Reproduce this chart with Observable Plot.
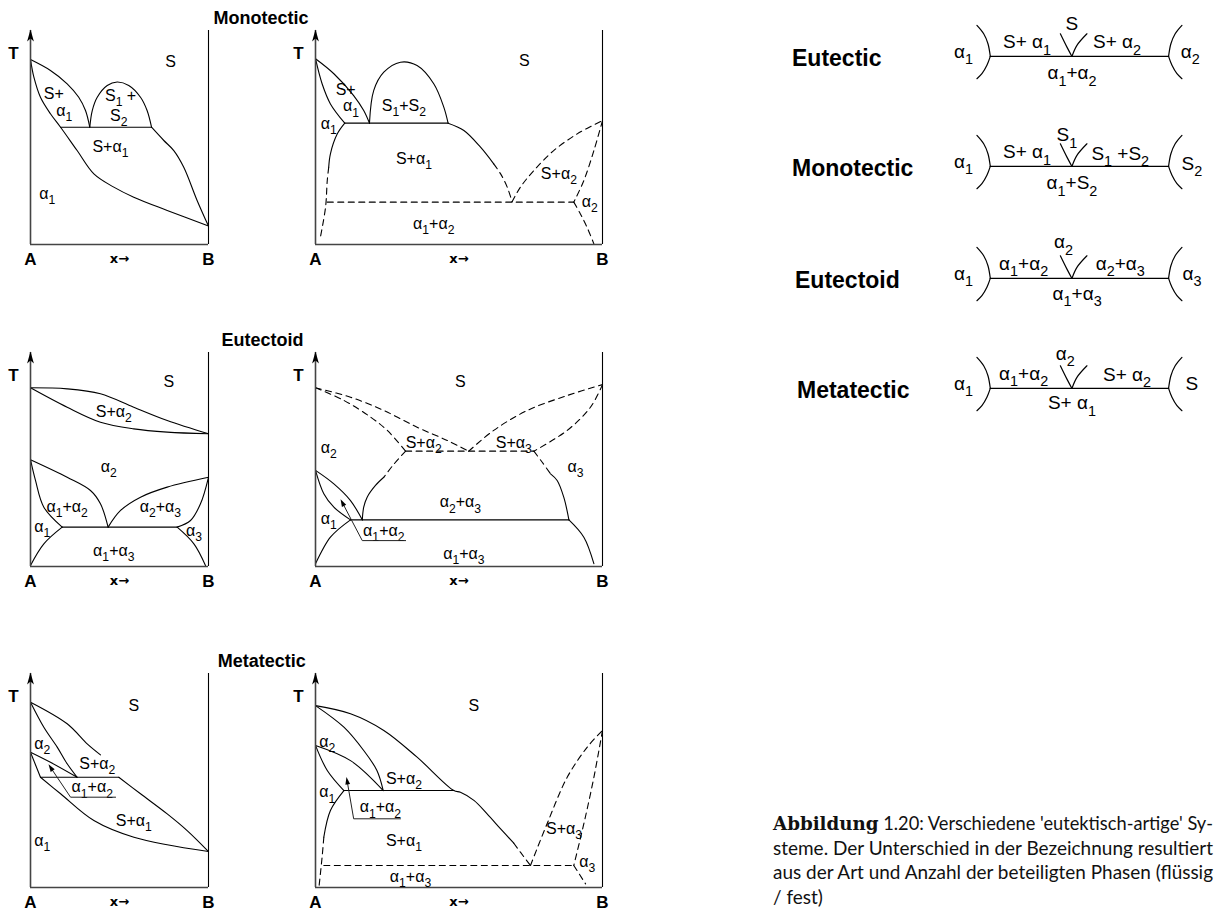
<!DOCTYPE html>
<html>
<head>
<meta charset="utf-8">
<script src="https://cdn.jsdelivr.net/npm/d3@7"></script>
<script src="https://cdn.jsdelivr.net/npm/@observablehq/plot@0.6"></script>
<style>
  html, body { margin: 0; padding: 0; background: #fff; }
  #page { position: relative; width: 1215px; height: 913px; overflow: hidden; font-family: 'Liberation Sans', Arial, Helvetica, sans-serif; color: #000; }
  .ttl { position: absolute; font-weight: bold; line-height: 1; white-space: nowrap; }
  #caption { position: absolute; left: 773px; top: 811px; width: 440px; font-family: Lato, 'Open Sans', sans-serif; font-size: 19px; line-height: 24.5px; color: #111; }
  #caption .ln { width: 440px; white-space: nowrap; }
  #caption .j { text-align: justify; text-align-last: justify; }
  #caption b { font-family: 'DejaVu Serif', 'Liberation Serif', serif; font-weight: bold; font-size: 19px; }
  svg { display: block; overflow: visible; }
</style>
</head>
<body>
<div id="page"></div>
<script>
// ================= DATA =================
const panelTitles = ["Monotectic", "Eutectoid", "Metatectic"];
const reactionNames = ["Eutectic", "Monotectic", "Eutectoid", "Metatectic"];
const axisNames = { left: "A", right: "B", comp: "x→", temp: "T" };
const captionLines = [
  ["Abbildung", " 1.20: Verschiedene 'eutektisch-artige' Sy-"],
  ["", "steme. Der Unterschied in der Bezeichnung resultiert"],
  ["", "aus der Art und Anzahl der beteiligten Phasen (flüssig"],
  ["", "/ fest)"]
];

// Phase boundaries: composition x (A=0 .. B=100), temperature T (0 .. 100)
// kind: "stable" (solid line) or "metastable" (dashed line)
const monoLeftCurves = [
  { id: "liq-a", kind: "stable", pts: [[0,86.4],[11.2,81.3],[20.6,75.1],[27.1,68.8],[30.9,62.6],[33.3,54.8]] },
  { id: "sol-a", kind: "stable", pts: [[0,86.4],[1.9,78.2],[5.6,68.8],[11.2,61.1],[16.9,54.8],[26.2,43.9],[35.6,33.0],[46.8,26.8],[58.0,22.1],[76.8,15.9],[100,8.6]] },
  { id: "mono", kind: "stable", pts: [[16.9,54.8],[68.0,54.8]] },
  { id: "gap", kind: "stable", pts: [[33.3,54.8],[34.7,62.6],[37.5,68.8],[43.1,74.3],[48.7,75.9],[55.2,74.3],[61.8,68.8],[65.5,62.6],[68.0,54.8]] },
  { id: "liq-b", kind: "stable", pts: [[68.0,54.8],[74.9,48.6],[80.5,43.9],[86.1,36.1],[93.6,20.6],[100,8.6]] }
];
const monoLeftLabels = [
  { t: "S", x: 78.7, y: 85.2 }, { t: "S+", x: 13.1, y: 70.6 }, { t: "α_1", x: 19.0, y: 62.4 },
  { t: "S_1 +", x: 50.6, y: 69.6 }, { t: "S_2", x: 49.6, y: 60.2 }, { t: "S+α_1", x: 44.9, y: 45.5 },
  { t: "α_1", x: 9.4, y: 23.7 }
];

const monoRightCurves = [
  { id: "liq-a", kind: "stable", pts: [[0,86.8],[6.4,79.8],[13.3,69.6],[16.8,62.6],[18.8,56.7]] },
  { id: "sol-a", kind: "stable", pts: [[0,86.8],[2.3,75.1],[5.2,65.7],[10.2,56.7]] },
  { id: "mono", kind: "stable", pts: [[10.2,56.7],[46.2,56.7]] },
  { id: "solv-a", kind: "stable", pts: [[10.2,56.7],[7.6,51.7],[5.2,42.4],[4.6,36.1]] },
  { id: "solv-a2", kind: "metastable", pts: [[4.6,36.1],[4.1,29.9],[3.5,17.4],[1.7,3.4]] },
  { id: "gap", kind: "stable", pts: [[18.8,56.7],[20.3,72.0],[23.8,80.5],[29.6,85.2],[35.4,83.6],[41.2,75.1],[44.7,64.2],[46.2,56.7]] },
  { id: "liq-b", kind: "stable", pts: [[46.2,56.7],[51.7,53.3],[57.5,45.5],[62.1,37.7]] },
  { id: "liq-b2", kind: "metastable", pts: [[62.1,37.7],[64.5,33.0],[66.8,26.8],[68.5,20.0]] },
  { id: "eut", kind: "metastable", pts: [[4.1,19.8],[90.0,19.8]] },
  { id: "liq-c", kind: "metastable", pts: [[68.5,20.0],[71.4,26.8],[76.1,34.6],[83.0,43.9],[91.2,51.7],[100,57.9]] },
  { id: "sol-c", kind: "metastable", pts: [[100,57.9],[97.0,43.9],[93.5,29.9],[90.0,19.8]] },
  { id: "solv-c", kind: "metastable", pts: [[90.0,19.8],[92.3,14.3],[94.6,8.1],[97.0,0.3]] }
];
const monoRightLabels = [
  { t: "S", x: 72.8, y: 85.7 }, { t: "S+", x: 10.5, y: 72.4 }, { t: "α_1", x: 12.4, y: 64.6 },
  { t: "α_1", x: 4.6, y: 56.4 }, { t: "S_1+S_2", x: 30.8, y: 65.0 }, { t: "S+α_1", x: 34.3, y: 40.0 },
  { t: "S+α_2", x: 84.8, y: 33.0 }, { t: "α_2", x: 95.6, y: 19.8 }, { t: "α_1+α_2", x: 41.2, y: 9.7 }
];

const eutLeftCurves = [
  { id: "liq", kind: "stable", pts: [[0,83.5],[20.6,83.0],[39.3,80.7],[58.0,74.4],[76.8,68.2],[100,62.0]] },
  { id: "sol", kind: "stable", pts: [[0,83.5],[20.6,74.4],[39.3,67.4],[58.0,64.3],[76.8,62.8],[100,62.0]] },
  { id: "a2-left", kind: "stable", pts: [[0,49.9],[20.6,41.7],[33.7,35.5],[39.3,29.3],[43.6,18.4]] },
  { id: "a1-a12", kind: "stable", pts: [[0,49.9],[2.8,40.2],[7.5,27.7],[17.8,18.4]] },
  { id: "eutd", kind: "stable", pts: [[17.8,18.4],[82.4,18.4]] },
  { id: "solv-a1", kind: "stable", pts: [[17.8,18.4],[7.5,10.6],[0,0.5]] },
  { id: "a2-right", kind: "stable", pts: [[43.6,18.4],[50.6,26.2],[61.8,32.4],[76.8,37.1],[100,41.7]] },
  { id: "a3", kind: "stable", pts: [[100,41.7],[95.5,29.3],[89.9,21.5],[82.4,18.4]] },
  { id: "solv-a3", kind: "stable", pts: [[82.4,18.4],[91.8,10.6],[98.3,0.5]] }
];
const eutLeftLabels = [
  { t: "S", x: 77.7, y: 86.1 }, { t: "S+α_2", x: 46.8, y: 72.1 }, { t: "α_2", x: 44.0, y: 46.4 },
  { t: "α_1+α_2", x: 20.6, y: 27.7 }, { t: "α_2+α_3", x: 73.0, y: 27.7 }, { t: "α_1", x: 6.6, y: 18.4 },
  { t: "α_3", x: 91.8, y: 16.8 }, { t: "α_1+α_3", x: 46.8, y: 7.5 }
];

const eutRightCurves = [
  { id: "liq-l", kind: "metastable", pts: [[0,83.5],[12.2,79.1],[23.8,72.9],[35.4,65.1],[45.9,58.9],[53.4,53.9]] },
  { id: "sol-l", kind: "metastable", pts: [[0,83.5],[9.9,77.6],[19.2,69.8],[25.0,63.6],[31.4,53.9]] },
  { id: "eut", kind: "metastable", pts: [[31.4,53.9],[76.1,53.9]] },
  { id: "liq-r", kind: "metastable", pts: [[53.4,53.9],[62.1,63.6],[73.8,72.9],[87.7,79.9],[100,85.0]] },
  { id: "sol-r", kind: "metastable", pts: [[100,85.0],[95.8,74.4],[87.7,63.6],[76.1,53.9]] },
  { id: "a2-b1", kind: "metastable", pts: [[31.4,53.9],[27.3,47.8],[23.8,41.7]] },
  { id: "a2-b2", kind: "stable", pts: [[23.8,41.7],[20.9,37.9],[18.0,32.4],[16.8,27.7],[16.3,21.8]] },
  { id: "a3-b1", kind: "metastable", pts: [[76.1,53.9],[79.0,48.7],[81.9,43.3]] },
  { id: "a3-b2", kind: "stable", pts: [[81.9,43.3],[84.2,40.2],[86.5,32.4],[88.3,21.8]] },
  { id: "eutd", kind: "stable", pts: [[12.2,21.8],[88.3,21.8]] },
  { id: "a12-up", kind: "stable", pts: [[0,44.9],[6.4,38.6],[12.2,30.8],[16.3,21.8]] },
  { id: "a12-lo", kind: "stable", pts: [[0,44.9],[2.9,34.0],[6.4,27.7],[12.2,21.8]] },
  { id: "solv-a1", kind: "stable", pts: [[12.2,21.8],[5.2,13.7],[0,1.3]] },
  { id: "solv-a3", kind: "stable", pts: [[88.3,21.8],[93.5,13.7],[97.0,1.3]] }
];
const eutRightLeader = [[31.4,12.1],[16.3,12.1],[9.3,30.0]];
const eutRightLabels = [
  { t: "S", x: 50.5, y: 86.1 }, { t: "α_2", x: 4.6, y: 55.3 }, { t: "S+α_2", x: 37.7, y: 57.6 },
  { t: "S+α_3", x: 69.1, y: 57.6 }, { t: "α_3", x: 90.6, y: 46.4 }, { t: "α_2+α_3", x: 50.5, y: 30.0 },
  { t: "α_1", x: 4.6, y: 22.3 }, { t: "α_1+α_2", x: 23.8, y: 16.8 }, { t: "α_1+α_3", x: 51.7, y: 5.9 }
];

const metaLeftCurves = [
  { id: "liq-a", kind: "stable", pts: [[0,86.6],[20.6,76.5],[32.0,67.0],[39.3,62.0]] },
  { id: "sol-a2", kind: "stable", pts: [[0,86.6],[7.5,74.9],[15.0,65.6],[20.6,57.8],[26.2,51.5]] },
  { id: "a2-lo", kind: "stable", pts: [[0,63.2],[11.2,58.5],[26.2,51.5]] },
  { id: "a1-up", kind: "stable", pts: [[0,63.2],[5.6,51.5]] },
  { id: "meta", kind: "stable", pts: [[5.6,51.5],[49.6,51.5]] },
  { id: "sol-a1", kind: "stable", pts: [[5.6,51.5],[16.9,43.8],[35.6,31.3],[58.1,23.5],[100,16.8]] },
  { id: "liq-b", kind: "stable", pts: [[49.6,51.5],[61.8,43.8],[76.8,34.4],[88.0,26.6],[100,16.8]] }
];
const metaLeftLeader = [[47.8,42.2],[22.5,42.2],[11.2,56.2]];
const metaLeftLabels = [
  { t: "S", x: 58.0, y: 85.0 }, { t: "α_2", x: 6.6, y: 67.1 }, { t: "S+α_2", x: 37.5, y: 57.8 },
  { t: "α_1+α_2", x: 34.7, y: 46.8 }, { t: "S+α_1", x: 58.0, y: 31.3 }, { t: "α_1", x: 6.6, y: 22.0 }
];

const metaRightCurves = [
  { id: "liq", kind: "stable", pts: [[0,85.0],[12.2,81.2],[23.8,73.4],[35.4,60.9],[48.2,45.3],[50.5,44.5],[55.2,40.7],[59.8,34.4],[64.5,27.4],[69.1,20.7]] },
  { id: "liq2", kind: "metastable", pts: [[69.1,20.7],[71.4,16.5],[74.9,10.3]] },
  { id: "sol-a2", kind: "stable", pts: [[0,85.0],[9.9,74.9],[16.8,64.0],[21.4,54.7],[23.6,45.3]] },
  { id: "a2-lo", kind: "stable", pts: [[0,66.4],[12.2,59.3],[23.6,45.3]] },
  { id: "a1-up", kind: "stable", pts: [[0,66.4],[4.1,54.7],[9.9,45.3]] },
  { id: "meta", kind: "stable", pts: [[9.9,45.3],[48.2,45.3]] },
  { id: "solv-a1", kind: "stable", pts: [[9.9,45.3],[5.2,36.0],[2.9,23.5]] },
  { id: "solv-a1b", kind: "metastable", pts: [[2.9,23.5],[2.3,14.2],[1.2,0.1]] },
  { id: "eut", kind: "metastable", pts: [[2.9,10.3],[90.0,10.3]] },
  { id: "liq-r", kind: "metastable", pts: [[74.9,10.3],[80.7,29.8],[87.7,51.5],[94.7,65.6],[100,73.4]] },
  { id: "sol-r", kind: "metastable", pts: [[100,73.4],[97.0,51.5],[93.5,29.8],[90.0,10.3]] },
  { id: "solv-a3", kind: "metastable", pts: [[90.0,10.3],[94.1,1.7]] }
];
const metaRightLeader = [[29.6,32.1],[13.3,32.1],[11.0,50.0]];
const metaRightLabels = [
  { t: "S", x: 55.2, y: 85.0 }, { t: "α_2", x: 4.1, y: 67.9 }, { t: "S+α_2", x: 30.8, y: 50.8 },
  { t: "α_1", x: 4.1, y: 44.5 }, { t: "α_1+α_2", x: 22.6, y: 37.5 }, { t: "S+α_1", x: 30.8, y: 22.0 },
  { t: "S+α_3", x: 86.6, y: 27.4 }, { t: "α_3", x: 94.7, y: 11.8 }, { t: "α_1+α_3", x: 33.1, y: 4.8 }
];

// Reaction schematics (invariant line from 0 to 100, schematic units)
const reactionShape = {
  tie: [[0,0],[100,0]],
  bracketTop: [[-7.5,17.4],[-3.7,12.7],[-1.3,7.1],[0,0]],
  bracketBottom: [[0,0],[-1.9,-5],[-4.7,-9.7],[-7.5,-12.5]],
  vLeft: [[39.3,12.7],[43.0,5.2],[45.8,0]],
  vRight: [[45.8,0],[48.6,6.2],[54.2,12.7]]
};
const reactionLabels = [
  [ { t: "α_1", x: -15, y: 2.4 }, { t: "S+ α_1", x: 20.6, y: 7.9 }, { t: "S", x: 45.8, y: 18.3 },
    { t: "S+ α_2", x: 71.1, y: 7.9 }, { t: "α_2", x: 112.2, y: 2.4 }, { t: "α_1+α_2", x: 45.8, y: -9.5 } ],
  [ { t: "α_1", x: -15, y: 2.4 }, { t: "S+ α_1", x: 20.6, y: 7.9 }, { t: "S_1", x: 43.0, y: 17.4 },
    { t: "S_1 +S_2", x: 72.9, y: 7.1 }, { t: "S_2", x: 113.1, y: 1.5 }, { t: "α_1+S_2", x: 45.8, y: -9.5 } ],
  [ { t: "α_1", x: -15, y: 2.4 }, { t: "α_1+α_2", x: 18.7, y: 8.0 }, { t: "α_2", x: 41.1, y: 20.2 },
    { t: "α_2+α_3", x: 72.9, y: 8.0 }, { t: "α_3", x: 113.1, y: 2.4 }, { t: "α_1+α_3", x: 48.7, y: -8.6 } ],
  [ { t: "α_1", x: -15, y: 2.8 }, { t: "α_1+α_2", x: 18.7, y: 8.4 }, { t: "α_2", x: 42.1, y: 19.6 },
    { t: "S+ α_2", x: 76.7, y: 7.5 }, { t: "S", x: 113.1, y: 2.8 }, { t: "S+ α_1", x: 45.8, y: -8.4 } ]
];

// ================= LAYOUT / STYLE =================
const FONT = "'Liberation Sans', Arial, Helvetica, sans-serif";
const page = document.getElementById("page");
const SVGNS = "http://www.w3.org/2000/svg";

function subscriptify(svg) {
  for (const t of svg.querySelectorAll("text")) {
    const s = t.textContent;
    if (!s.includes("_")) continue;
    const g = t.closest("[font-size]");
    const fs = g ? parseFloat(g.getAttribute("font-size")) : 16;
    t.textContent = "";
    const parts = s.split(/_(\w)/);
    parts.forEach((p, i) => {
      if (!p) return;
      const ts = document.createElementNS(SVGNS, "tspan");
      ts.textContent = p;
      if (i % 2 === 1) { ts.setAttribute("font-size", (fs * 0.76).toFixed(2)); ts.setAttribute("dy", (fs * 0.32).toFixed(2)); }
      else if (i > 0) { ts.setAttribute("dy", (-fs * 0.32).toFixed(2)); }
      t.appendChild(ts);
    });
  }
}
function fillMarkers(svg) {
  for (const m of svg.querySelectorAll("marker")) {
    m.setAttribute("markerWidth", 10);
    m.setAttribute("markerHeight", 10);
    m.setAttribute("fill", "#000");
    m.setAttribute("stroke", "none");
    const p = m.querySelector("path");
    if (p) p.setAttribute("d", "M-4,-2.4L3.5,0L-4,2.4Z");
  }
}
function place(el, left, top) {
  el.style.position = "absolute";
  el.style.left = left + "px";
  el.style.top = top + "px";
  page.appendChild(el);
}
function toRows(curves) {
  return curves.flatMap(c => c.pts.map(([x, y]) => ({ curve: c.id, kind: c.kind, x, y })));
}
const axisArrow = { draw(ctx) { ctx.moveTo(0, -1); ctx.lineTo(3.4, 11); ctx.lineTo(0, 8); ctx.lineTo(-3.4, 11); ctx.closePath(); } };

function panel(curves, labels, leader, box) {
  const mL = 30, mR = 14, mT = 8, mB = 28;
  const rows = toRows(curves);
  const marks = [
    Plot.line(rows.filter(d => d.kind === "stable"), { x: "x", y: "y", z: "curve", curve: "catmull-rom", stroke: "#000", strokeWidth: 1.1 }),
    Plot.line(rows.filter(d => d.kind === "metastable"), { x: "x", y: "y", z: "curve", curve: "catmull-rom", stroke: "#000", strokeWidth: 1.1, strokeDasharray: "6,4.5" }),
    Plot.ruleX([0], { y1: 0, y2: 100, stroke: "#444", strokeWidth: 1.6 }),
    Plot.ruleX([100], { y1: 0, y2: 100, stroke: "#000", strokeWidth: 1.1 }),
    Plot.ruleY([0], { x1: 0, x2: 100, stroke: "#444", strokeWidth: 1.6 }),
    Plot.dot([{ x: 0, y: 100 }], { x: "x", y: "y", symbol: axisArrow, fill: "#000", stroke: "none" }),
    Plot.text(labels, { x: "x", y: "y", text: "t", fontSize: 16, fontFamily: FONT }),
    Plot.text([{ x: 0, t: axisNames.left }, { x: 100, t: axisNames.right }], { x: "x", y: () => 0, text: "t", dy: 15, fontSize: 17, fontWeight: "bold", fontFamily: FONT }),
    Plot.text([{ x: 50, t: axisNames.comp }], { x: "x", y: () => 0, text: "t", dy: 14, fontSize: 13, fontWeight: "bold", fontFamily: "'DejaVu Sans', sans-serif" }),
    Plot.text([{ x: 0, y: 89, t: axisNames.temp }], { x: "x", y: "y", text: "t", dx: -17, fontSize: 17, fontWeight: "bold", fontFamily: FONT })
  ];
  if (leader) marks.push(Plot.line(leader.map(([x, y]) => ({ x, y })), { x: "x", y: "y", stroke: "#222", strokeWidth: 1, markerEnd: "arrow" }));
  const svg = Plot.plot({
    width: mL + box.w + mR, height: mT + box.h + mB,
    marginLeft: mL, marginRight: mR, marginTop: mT, marginBottom: mB,
    x: { domain: [0, 100], axis: null },
    y: { domain: [0, 100], axis: null },
    style: { background: "transparent", overflow: "visible" },
    marks
  });
  subscriptify(svg);
  fillMarkers(svg);
  place(svg, box.left - mL, box.top - mT);
}

const colL = { left: 30, w: 178, h: 214 }, colR = { left: 315, w: 287, h: 214 };
const rowTops = [30, 352, 673];
panel(monoLeftCurves, monoLeftLabels, null, { ...colL, top: rowTops[0] });
panel(monoRightCurves, monoRightLabels, null, { ...colR, top: rowTops[0] });
panel(eutLeftCurves, eutLeftLabels, null, { ...colL, top: rowTops[1] });
panel(eutRightCurves, eutRightLabels, eutRightLeader, { ...colR, top: rowTops[1] });
panel(metaLeftCurves, metaLeftLabels, metaLeftLeader, { ...colL, top: rowTops[2] });
panel(metaRightCurves, metaRightLabels, metaRightLeader, { ...colR, top: rowTops[2] });

// Panel titles
const titleCenters = [[261, 17.5], [262.5, 340], [261.7, 661]];
panelTitles.forEach((t, i) => {
  const d = document.createElement("div");
  d.className = "ttl"; d.textContent = t; d.style.fontSize = "18px";
  d.style.transform = "translate(-50%, -50%)";
  place(d, titleCenters[i][0], titleCenters[i][1]);
});

// Reaction schematics
const rxLineY = [56, 166, 277.7, 388.3];
const rxLeft = 990, rxUnit = 1.783;
const rxNameX = [792, 792, 795, 797];
const xd = [-24, 124], yd = [-22, 28];
reactionNames.forEach((name, i) => {
  const mirror = pts => pts.map(([x, y]) => [100 - x, y]);
  const shapes = [
    { id: "tie", pts: reactionShape.tie },
    { id: "bt", pts: reactionShape.bracketTop }, { id: "bb", pts: reactionShape.bracketBottom },
    { id: "rt", pts: mirror(reactionShape.bracketTop) }, { id: "rb", pts: mirror(reactionShape.bracketBottom) },
    { id: "vl", pts: reactionShape.vLeft }, { id: "vr", pts: reactionShape.vRight }
  ];
  const rows = shapes.flatMap(s => s.pts.map(([x, y]) => ({ s: s.id, x, y })));
  const svg = Plot.plot({
    width: (xd[1] - xd[0]) * rxUnit, height: (yd[1] - yd[0]) * rxUnit,
    margin: 0,
    x: { domain: xd, axis: null }, y: { domain: yd, axis: null },
    style: { background: "transparent", overflow: "visible" },
    marks: [
      Plot.line(rows, { x: "x", y: "y", z: "s", curve: "catmull-rom", stroke: "#000", strokeWidth: 1.2 }),
      Plot.text(reactionLabels[i], { x: "x", y: "y", text: "t", fontSize: 19, fontFamily: FONT })
    ]
  });
  subscriptify(svg);
  place(svg, rxLeft + xd[0] * rxUnit, rxLineY[i] - yd[1] * rxUnit);
  const d = document.createElement("div");
  d.className = "ttl"; d.textContent = name; d.style.fontSize = "23px";
  d.style.transform = "translate(0, -50%)";
  place(d, rxNameX[i], rxLineY[i] + 2);
});

// Caption (justified lines; lines wider than the column are condensed)
const cap = document.createElement("div");
cap.id = "caption";
page.appendChild(cap);
const CAPW = 440;
captionLines.forEach((ln, i) => {
  const d = document.createElement("div");
  d.className = "ln";
  const sp = document.createElement("span");
  if (ln[0]) { const b = document.createElement("b"); b.textContent = ln[0]; sp.appendChild(b); }
  sp.appendChild(document.createTextNode(ln[1]));
  d.appendChild(sp);
  cap.appendChild(d);
  const last = i === captionLines.length - 1;
  const w = sp.getBoundingClientRect().width;
  if (!last) {
    if (w > CAPW) {
      sp.style.display = "inline-block";
      sp.style.transformOrigin = "0 50%";
      sp.style.transform = `scaleX(${(CAPW / w).toFixed(4)})`;
    } else {
      d.classList.add("j");
    }
  }
});
</script>
</body>
</html>
